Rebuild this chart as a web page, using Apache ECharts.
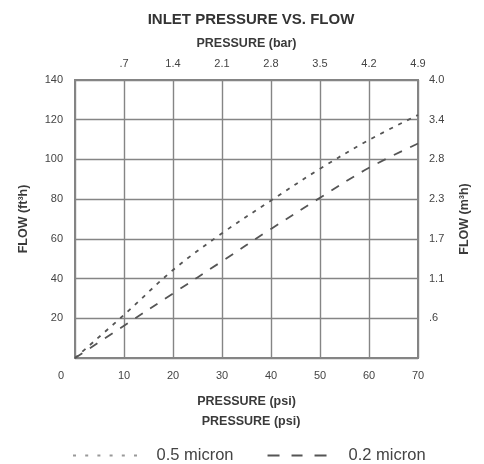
<!DOCTYPE html>
<html>
<head>
<meta charset="utf-8">
<script src="https://cdn.jsdelivr.net/npm/echarts@6/dist/echarts.min.js"></script>
<style>html,body{margin:0;padding:0;background:#fff}#c{width:484px;height:464px}</style>
</head>
<body>
<div id="c"></div>
<script>
var psi = [0, 10, 20, 30, 40, 50, 60, 70];
var flow05 = [0, 21.7, 44.3, 62.8, 79.3, 95.3, 109.8, 122.4];
var flow02 = [0, 16.3, 32.5, 48.7, 65, 80.7, 95.8, 108];
var barLabels = ['', '.7', '1.4', '2.1', '2.8', '3.5', '4.2', '4.9'];
var m3Labels = ['', '.6', '1.1', '1.7', '2.3', '2.8', '3.4', '4.0'];
var seriesNames = ['0.5 micron', '0.2 micron'];

var FONT = '"Liberation Sans", Arial, sans-serif';
var chart = echarts.init(document.getElementById('c'), null, {renderer: 'canvas'});
var gridLine = {show: true, lineStyle: {color: '#858585', width: 1.4}};
var axisLabelBase = {color: '#444', fontSize: 11, fontFamily: FONT};
var nameStyle = {fontSize: 12.5, fontWeight: 'bold', color: '#3a3a3a', fontFamily: FONT};

function pairs(xs, ys) { return xs.map(function (x, i) { return [x, ys[i]]; }); }

var dotIcon = 'path://M0,0h3v2h-3z M12.2,0h3v2h-3z M24.4,0h3v2h-3z M36.6,0h3v2h-3z M48.8,0h3v2h-3z M61,0h3v2h-3z';
var dashIcon = 'path://M0,0h12v2h-12z M24,0h11v2h-11z M47,0h12v2h-12z';

chart.setOption({
  animation: false,
  backgroundColor: '#fff',
  title: [
    {text: 'INLET PRESSURE VS. FLOW', left: 246, top: 7, textAlign: 'center',
     textStyle: {fontSize: 15, fontWeight: 'bold', color: '#333', fontFamily: FONT}},
    {text: 'PRESSURE (psi)', left: 246, top: 410, textAlign: 'center',
     textStyle: nameStyle}
  ],
  grid: {left: 75, right: 66, top: 80, bottom: 106, show: true, borderColor: '#858585', borderWidth: 2},
  legend: {
    top: 447, left: 73, padding: 0,
    itemWidth: 65, itemHeight: 2, itemGap: 34,
    textStyle: {fontSize: 16.5, color: '#444', fontFamily: FONT, padding: [0, 0, 0, 14]},
    data: [
      {name: seriesNames[0], icon: dotIcon, itemStyle: {color: '#999'}},
      {name: seriesNames[1], icon: dashIcon, itemStyle: {color: '#555'}}
    ]
  },
  xAxis: [
    {type: 'value', position: 'bottom', min: 0, max: 70, interval: 10,
     axisLine: {show: false}, axisTick: {show: false}, splitLine: gridLine,
     axisLabel: Object.assign({}, axisLabelBase, {
       margin: 12,
       formatter: function (v) { return v === 0 ? '{z|0}' : String(v); },
       rich: {z: {fontSize: 11, color: '#444', fontFamily: FONT, padding: [0, 28, 0, 0]}}
     }),
     name: 'PRESSURE (psi)', nameLocation: 'middle', nameGap: 37,
     nameTextStyle: nameStyle},
    {type: 'value', position: 'top', min: 0, max: 70, interval: 10,
     axisLine: {show: false}, axisTick: {show: false}, splitLine: {show: false},
     axisLabel: Object.assign({}, axisLabelBase, {
       margin: 11,
       formatter: function (v) { return barLabels[Math.round(v / 10)]; }
     }),
     name: 'PRESSURE (bar)', nameLocation: 'middle', nameGap: 30,
     nameTextStyle: nameStyle}
  ],
  yAxis: [
    {type: 'value', position: 'left', min: 0, max: 140, interval: 20,
     axisLine: {show: false}, axisTick: {show: false}, splitLine: gridLine,
     axisLabel: Object.assign({}, axisLabelBase, {
       margin: 12,
       formatter: function (v) { return v === 0 ? '' : String(v); }
     }),
     name: 'FLOW (ft³h)', nameLocation: 'middle', nameGap: 45, nameRotate: 90,
     nameTextStyle: nameStyle},
    {type: 'value', position: 'right', min: 0, max: 140, interval: 20,
     axisLine: {show: false}, axisTick: {show: false}, splitLine: {show: false},
     axisLabel: Object.assign({}, axisLabelBase, {
       margin: 11,
       formatter: function (v) { return m3Labels[Math.round(v / 20)]; }
     }),
     name: 'FLOW (m³h)', nameLocation: 'middle', nameGap: 40, nameRotate: 90,
     nameTextStyle: nameStyle}
  ],
  series: [
    {name: seriesNames[0], type: 'line', smooth: 0.35, symbol: 'none', showSymbol: false,
     data: pairs(psi, flow05),
     lineStyle: {color: '#555', width: 1.8, type: [4, 6]},
     itemStyle: {color: '#555'}},
    {name: seriesNames[1], type: 'line', smooth: 0.35, symbol: 'none', showSymbol: false,
     data: pairs(psi, flow02),
     lineStyle: {color: '#555', width: 1.8, type: [9, 9]},
     itemStyle: {color: '#555'}}
  ]
});
</script>
</body>
</html>
